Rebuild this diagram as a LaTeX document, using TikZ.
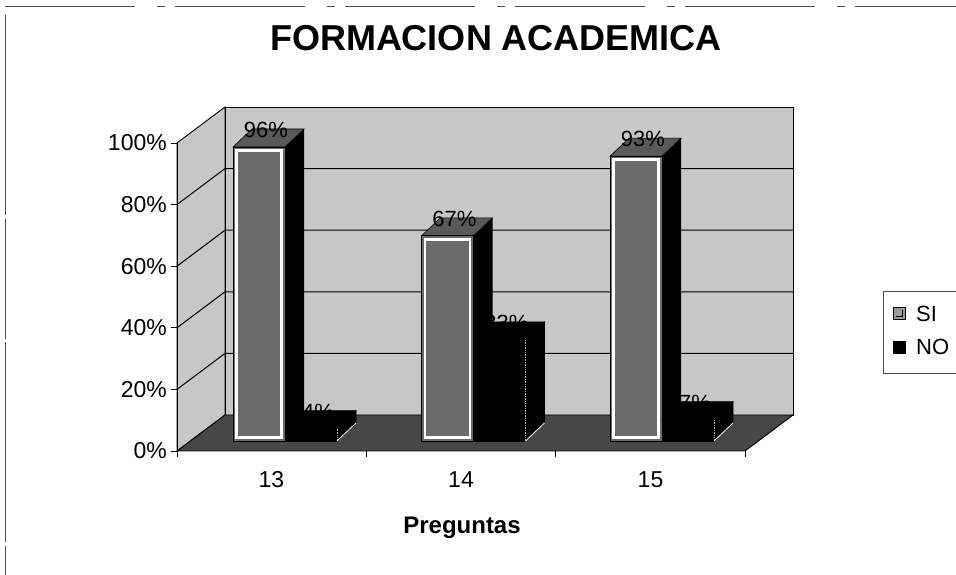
\documentclass[tikz,border=0pt]{standalone}
\usepackage{fontspec}
\setmainfont{Liberation Sans}
\newcommand{\drawsibar}[3]{%
  \pgfmathsetmacro\hh{134+3.0625*#3}
  \fill[black] (#2+52,134) -- (#2+71,152) -- (#2+71,\hh+18) -- (#2+52,\hh) -- cycle;
  \filldraw[sitop] (#2,\hh) -- (#2+19,\hh+18) -- (#2+71,\hh+18) -- (#2+52,\hh) -- cycle;
  \filldraw[sifront] (#2,134) rectangle (#2+52,\hh);
  \draw[white, line width=2.5pt] (#2+3.5,137.5) rectangle (#2+48.5,\hh-3.5);
  \node[lbl] (#1) at (#2+33,\hh+17) {#3\%};
}
\newcommand{\drawnobar}[3]{%
  \pgfmathsetmacro\hh{134+3.0625*#3}
  \filldraw[nobar] (#2+52,134) -- (#2+71,152) -- (#2+71,\hh+18) -- (#2+52,\hh) -- cycle;
  \filldraw[nobar] (#2,\hh) -- (#2+19,\hh+18) -- (#2+71,\hh+18) -- (#2+52,\hh) -- cycle;
  \filldraw[nobar] (#2,134) rectangle (#2+52,\hh);
  \draw[white!70!black, line width=0.7pt, densely dotted] (#2+52,134) -- (#2+52,\hh);
  \draw[white, line width=0.8pt] (#2+52,134) -- (#2+71,152);
  \node[lbl] (#1) at (#2+33,\hh+17) {#3\%};
}
\begin{document}
\begin{tikzpicture}[x=1pt,y=1pt,
  wall/.style={fill=black!22, draw=black, line width=0.9pt},
  floorface/.style={fill=black!72, draw=black, line width=0.9pt},
  gridline/.style={black, line width=1pt},
  sifront/.style={fill=black!58, draw=black, line width=0.8pt},
  sitop/.style={fill=black!65, draw=black, line width=0.6pt},
  nobar/.style={fill=black, draw=black, line width=0.6pt},
  lbl/.style={font=\fontsize{22}{24}\selectfont, inner sep=0pt},
  ticklbl/.style={font=\fontsize{23}{25}\selectfont, inner sep=0pt},
  leglbl/.style={font=\fontsize{22}{24}\selectfont, inner sep=0pt},
  tick/.style={black, line width=0.8pt},
  frameline/.style={black!70, line width=0.8pt},
]
\useasboundingbox (0,0) rectangle (956,575);
\fill[white] (0,0) rectangle (956,575);

% outer frame (partly visible)
\draw[frameline, dash pattern=on 130pt off 22pt on 8pt off 10pt] (5,569) -- (956,569);
\draw[frameline, dash pattern=on 200pt off 4pt on 120pt off 3pt] (5,560) -- (5,0);

% title
\node[font=\fontsize{36}{40}\selectfont\bfseries, inner sep=0pt] (title) at (496,537) {FORMACION ACADEMICA};

% walls and floor
\coordinate (F0) at (177,124);
\coordinate (F1) at (177,432);
\coordinate (B0) at (225,160);
\coordinate (B1) at (225,468);
\coordinate (B2) at (793,468);
\coordinate (B3) at (793,160);
\coordinate (F3) at (745,124);

\draw[wall] (F0) -- (F1) -- (B1) -- (B0) -- cycle;
\draw[wall] (B0) rectangle (B2);
\foreach \k in {1,...,4} {
  \draw[gridline] (177,124+61.6*\k) -- (225,160+61.6*\k) -- (793,160+61.6*\k);
}
\draw[floorface] (F0) -- (F3) -- (B3) -- (B0) -- cycle;

% value axis ticks and labels
\foreach \k/\p in {0/0,1/20,2/40,3/60,4/80,5/100} {
  \draw[tick] (171,124+61.6*\k) -- (177,124+61.6*\k);
  \node[ticklbl, anchor=east] (y\p) at (167,124+61.6*\k) {\p\%};
}
\draw[tick] (F0) -- (F1);

% category ticks and labels
\foreach \x in {177,366.3,555.7,745} {
  \draw[tick] (\x,124) -- (\x,118);
}
\node[ticklbl] (c13) at (271.5,95) {13};
\node[ticklbl] (c14) at (461,95) {14};
\node[ticklbl] (c15) at (650.5,95) {15};
\node[font=\fontsize{24}{26}\selectfont\bfseries, inner sep=0pt] (xtitle) at (462,47) {Preguntas};

% bars
\drawsibar{s13}{233}{96}
\drawnobar{n13}{285}{4}
\drawsibar{s14}{421.5}{67}
\drawnobar{n14}{473.5}{33}
\drawsibar{s15}{610}{93}
\drawnobar{n15}{662}{7}

% legend
\draw[frameline] (960,284) -- (883,284) -- (883,202) -- (960,202);
\filldraw[fill=black!40, draw=black, line width=0.8pt] (893,255.5) rectangle (905,267.5);
\draw[black, line width=0.6pt] (896,258.5) -- (902,258.5) -- (902,264.5);
\node[leglbl, anchor=west] (legsi) at (916,261) {SI};
\filldraw[fill=black, draw=black] (893,222) rectangle (905,234);
\node[leglbl, anchor=west] (legno) at (916,228) {NO};
\end{tikzpicture}
\end{document}
